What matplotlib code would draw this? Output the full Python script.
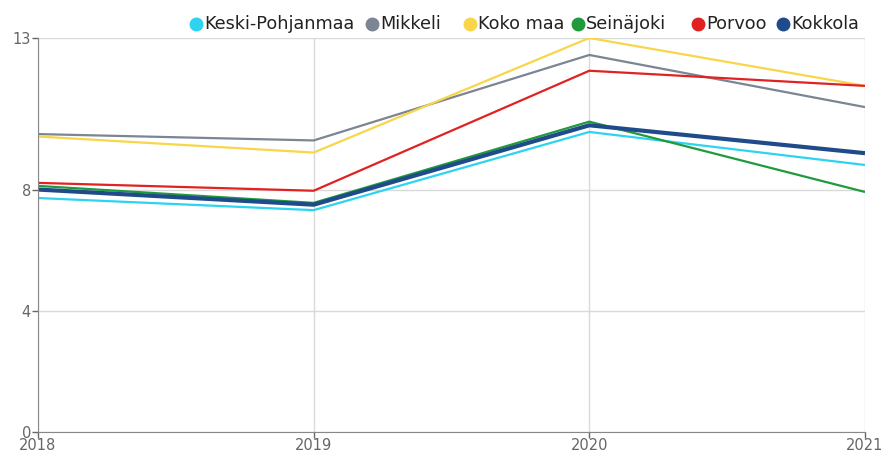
import matplotlib.pyplot as plt

years = [2018, 2019, 2020, 2021]
keski_pohjanmaa = [7.72, 7.32, 9.9, 8.81]
mikkeli = [9.83, 9.62, 12.44, 10.72]
koko_maa = [9.75, 9.22, 13.0, 11.42]
seinajoki = [8.12, 7.56, 10.24, 7.92]
porvoo = [8.22, 7.96, 11.92, 11.42]
kokkola = [8.0, 7.5, 10.12, 9.2]

series = [
    ('Keski-Pohjanmaa', keski_pohjanmaa, '#2dd3f0', 1.6),
    ('Mikkeli', mikkeli, '#7b8593', 1.6),
    ('Koko maa', koko_maa, '#f9d54a', 1.6),
    ('Seinäjoki', seinajoki, '#1f9a3c', 1.6),
    ('Porvoo', porvoo, '#e02222', 1.6),
    ('Kokkola', kokkola, '#1f4b8a', 3.0),
]
# legend marker x positions (pixels)
legend_x = [196, 372, 470, 578, 698, 783]

W, H = 883, 453
fig = plt.figure(figsize=(W / 100, H / 100), dpi=100)
ax = fig.add_axes([38 / W, 21 / H, 827 / W, 394 / H])

for name, vals, col, lw in series:
    ax.plot(years, vals, color=col, lw=lw, label=name, solid_capstyle='butt')

ax.set_xlim(2018, 2021)
ax.set_ylim(0, 13)
ax.set_yticks([0, 4, 8, 13])
ax.set_xticks(years)
ax.grid(True, color='#d9d9d9', lw=1)
ax.set_axisbelow(True)
for s in ['top', 'right']:
    ax.spines[s].set_visible(False)
for s in ['left', 'bottom']:
    ax.spines[s].set_color('#888888')
ax.tick_params(colors='#666666', labelsize=10.5, length=4, width=1, pad=1)
ax.tick_params(axis='x', pad=0.5)

# legend drawn by hand to keep the uneven spacing
ly = 1 - 24 / H
for (name, _, col, _), px in zip(series, legend_x):
    fig.lines.append(plt.Line2D([px / W], [ly], marker='o', ls='', color=col,
                                markersize=9, transform=fig.transFigure))
    fig.text((px + 8) / W, ly, name, fontsize=12.7, color='#222222',
             va='center', ha='left')

fig.savefig('out.png', dpi=100)
